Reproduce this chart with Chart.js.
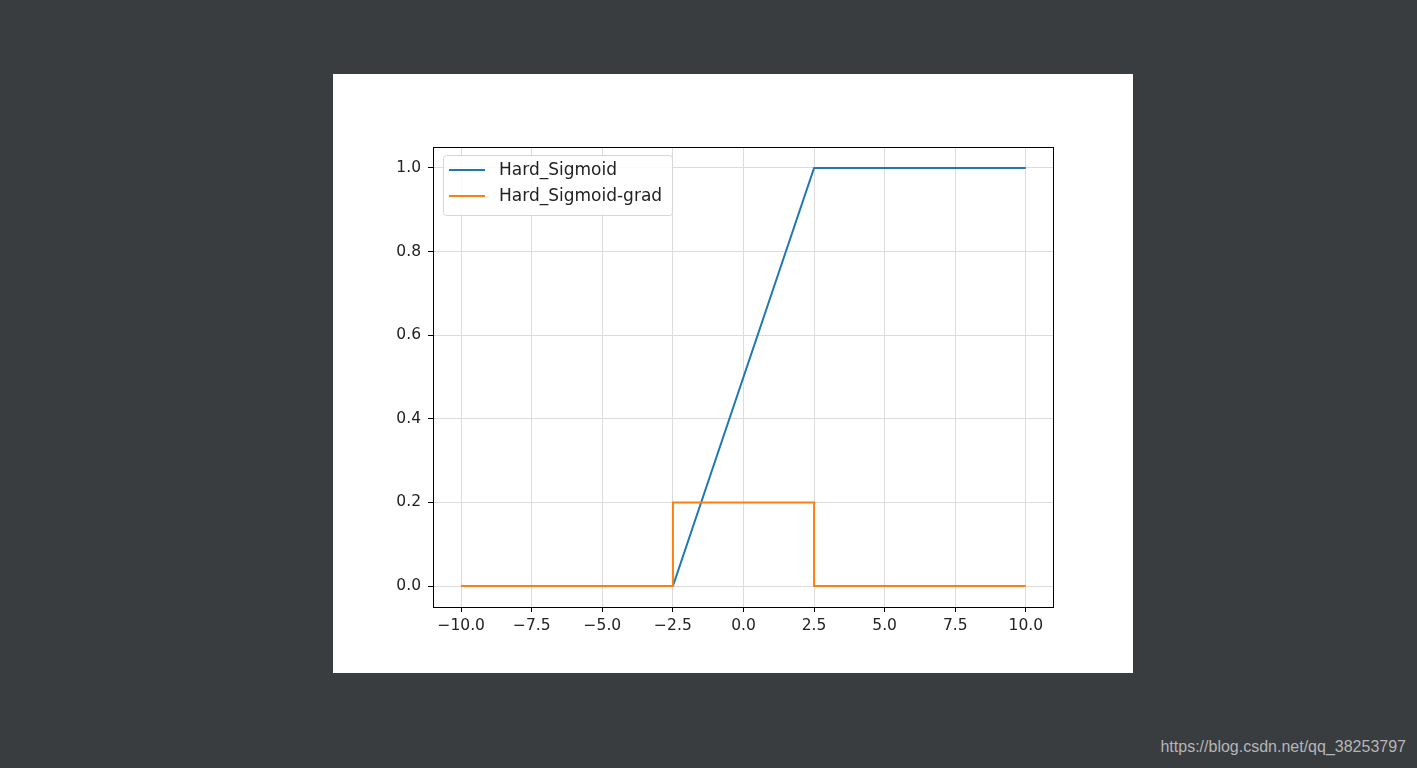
<!DOCTYPE html>
<html>
<head>
<meta charset="utf-8">
<script src="https://cdn.jsdelivr.net/npm/chart.js@4"></script>
<style>
  html, body { margin: 0; padding: 0; width: 1417px; height: 768px; background: #3a3d40; overflow: hidden; }
  #panel { position: absolute; left: 333px; top: 74px; width: 800px; height: 599px; background: #fff; }
  #chart { display: block; }
  #mark { position: absolute; right: 11px; top: 738px; font-family: "Liberation Sans", Arial, sans-serif; font-size: 16px; color: #b4b6b8; }
</style>
</head>
<body>
<div id="panel"><canvas id="chart" width="800" height="599"></canvas></div>
<div id="mark">https://blog.csdn.net/qq_38253797</div>
<script>
// Data
const sigmoidX = [-10, -2.5, 2.5, 10];
const sigmoidY = [0, 0, 1, 1];
const gradX = [-10, -2.5, -2.5, 2.5, 2.5, 10];
const gradY = [0, 0, 0.2, 0.2, 0, 0];
const xTicks = [-10, -7.5, -5, -2.5, 0, 2.5, 5, 7.5, 10];
const yTicks = [0, 0.2, 0.4, 0.6, 0.8, 1.0];
const seriesNames = ['Hard_Sigmoid', 'Hard_Sigmoid-grad'];
const seriesColors = ['#1f77b4', '#ff7f0e'];

const tickFont = { family: 'DejaVu Sans', size: 15.5 };

function toPoints(xs, ys) {
    return xs.map((x, i) => ({ x: x, y: ys[i] }));
}

function fmt(v) {
    return v.toFixed(1).replace('-', '\u2212');
}

// frame around plot area + legend box in matplotlib style
const framePlugin = {
    id: 'frame',
    afterDraw(chart) {
        const ctx = chart.ctx;
        const a = chart.chartArea;
        ctx.save();
        ctx.strokeStyle = '#000';
        ctx.lineWidth = 1;
        ctx.strokeRect(a.left + 0.5, a.top + 0.5, a.right - a.left - 1, a.bottom - a.top);

        // legend
        const bx = a.left + 10, by = a.top + 8, bw = 229, bh = 60;
        ctx.fillStyle = 'rgba(255,255,255,0.85)';
        ctx.strokeStyle = '#d6d6d6';
        ctx.beginPath();
        ctx.roundRect(bx + 0.5, by + 0.5, bw, bh, 3);
        ctx.fill();
        ctx.stroke();
        ctx.font = '17px "DejaVu Sans"';
        ctx.textBaseline = 'middle';
        seriesNames.forEach((name, i) => {
            const y = by + 15 + i * 26;
            ctx.strokeStyle = seriesColors[i];
            ctx.lineWidth = 2;
            ctx.beginPath();
            ctx.moveTo(bx + 6, y);
            ctx.lineTo(bx + 42, y);
            ctx.stroke();
            ctx.fillStyle = '#222';
            ctx.fillText(name, bx + 56, y + 1);
        });
        ctx.restore();
    }
};

const ctx = document.getElementById('chart').getContext('2d');
new Chart(ctx, {
    type: 'scatter',
    data: {
        datasets: [
            {
                label: seriesNames[0],
                data: toPoints(sigmoidX, sigmoidY),
                showLine: true,
                borderColor: seriesColors[0],
                borderWidth: 2,
                pointRadius: 0,
                tension: 0,
                order: 2
            },
            {
                label: seriesNames[1],
                data: toPoints(gradX, gradY),
                showLine: true,
                borderColor: seriesColors[1],
                borderWidth: 2,
                pointRadius: 0,
                tension: 0,
                order: 1
            }
        ]
    },
    options: {
        responsive: false,
        animation: false,
        layout: { padding: { left: 0, right: 79, top: 73, bottom: 0 } },
        scales: {
            x: {
                type: 'linear',
                min: -11,
                max: 11,
                afterBuildTicks: s => { s.ticks = xTicks.map(v => ({ value: v })); },
                afterFit: s => { s.height = 66; },
                border: { display: false },
                grid: { color: '#dcdcdc', tickColor: '#000', tickLength: 5, lineWidth: 1 },
                ticks: { font: tickFont, color: '#222', padding: 5, maxRotation: 0, callback: v => fmt(v) }
            },
            y: {
                type: 'linear',
                min: -0.05,
                max: 1.05,
                afterBuildTicks: s => { s.ticks = yTicks.map(v => ({ value: v })); },
                afterFit: s => { s.width = 100; },
                border: { display: false },
                grid: { color: '#dcdcdc', tickColor: '#000', tickLength: 5, lineWidth: 1 },
                ticks: { font: tickFont, color: '#222', padding: 7, callback: v => fmt(v) }
            }
        },
        plugins: {
            legend: { display: false },
            tooltip: { enabled: false }
        }
    },
    plugins: [framePlugin]
});
</script>
</body>
</html>
